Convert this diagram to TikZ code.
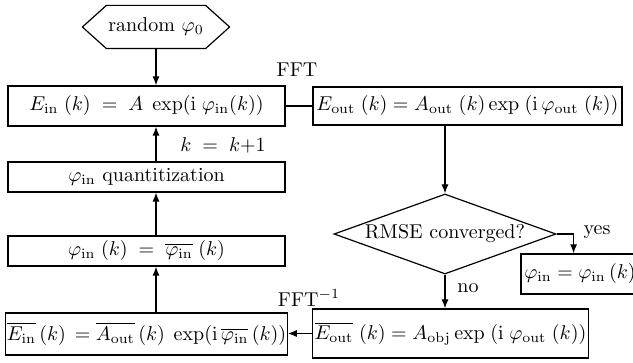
\documentclass[tikz,border=0pt]{standalone}
\usetikzlibrary{arrows.meta,shapes.geometric}
\begin{document}
\begin{tikzpicture}[x=0.5pt,y=-0.5pt,
  line width=0.6pt,
  box/.style={draw, rectangle, inner sep=1pt, anchor=center},
  arr/.style={-{Latex[length=4.5pt,width=3.5pt]}},
  lbl/.style={inner sep=0pt, anchor=center}]
\useasboundingbox (0,0) rectangle (633,363);
% start
\node[inner sep=0pt, minimum width=73pt, minimum height=21pt] (hex) at (156,27) {random $\varphi_0$};
\draw (hex.west) -- ([xshift=12pt]hex.north west) -- ([xshift=-12pt]hex.north east)
  -- (hex.east) -- ([xshift=-12pt]hex.south east) -- ([xshift=12pt]hex.south west) -- cycle;
% left column
\node[box, minimum width=138.5pt, minimum height=20pt] (ein) at (146.5,106)
  {$E_{\mathrm{in}}\;(k)\;=\;A\;\exp(\mathrm{i}\;\varphi_{\mathrm{in}}(k))$};
\node[box, minimum width=138.5pt, minimum height=15pt] (quant) at (146.5,177)
  {$\varphi_{\mathrm{in}}$ quantitization};
\node[box, minimum width=138.5pt, minimum height=15pt] (phi) at (146.5,251)
  {$\varphi_{\mathrm{in}}\;(k)\;=\;\overline{\varphi_{\mathrm{in}}}\;(k)$};
\node[box, inner sep=0.5pt, minimum width=138.5pt, minimum height=21pt] (einbar) at (146.5,334)
  {$\overline{E_{\mathrm{in}}}\,(k)\,=\overline{A_{\mathrm{out}}}\,(k)\;\exp(\mathrm{i}\,\overline{\varphi_{\mathrm{in}}}\,(k))$};
% right column
\node[box, minimum width=154.5pt, minimum height=19pt] (eout) at (467.5,106)
  {$E_{\mathrm{out}}\;(k)=A_{\mathrm{out}}\;(k)\exp\;(\mathrm{i}\,\varphi_{\mathrm{out}}\;(k))$};
\node[draw, diamond, inner sep=0pt, aspect=2.7, minimum width=111pt, minimum height=40pt] (dia) at (445,234)
  {RMSE converged?};
\node[box, minimum width=59pt, minimum height=20pt] (yes) at (580,274)
  {$\varphi_{\mathrm{in}}=\varphi_{\mathrm{in}}\,(k)$};
\node[box, minimum width=131.5pt, minimum height=24.5pt] (eoutbar) at (450.5,333.5)
  {$\overline{E_{\mathrm{out}}}\;(k)=A_{\mathrm{obj}}\exp\;(\mathrm{i}\;\varphi_{\mathrm{out}}\;(k))$};
% connectors
\draw[arr] (hex.south) -- (hex.south |- ein.north);
\draw (ein.east) -- (eout.west);
\draw[arr] (dia.north |- eout.south) -- (dia.north);
\draw[arr] (dia.east) -- ++(17,0) coordinate (yk) -- (yk |- yes.north);
\draw[arr] (dia.south) -- (dia.south |- eoutbar.north);
\draw[arr] (eoutbar.west) -- (eoutbar.west -| einbar.east);
\draw[arr] (einbar.north -| hex.south) -- (phi.south -| hex.south);
\draw[arr] (phi.north -| hex.south) -- (quant.south -| hex.south);
\draw[arr] (quant.north -| hex.south) -- (ein.south -| hex.south);
% labels
\node[lbl] (fft) at (297,70) {FFT};
\node[lbl] (ifft) at (309,298) {FFT$^{-1}$};
\node[lbl] (kinc) at (223,145) {$k\;=\;k{+}1$};
\node[lbl] (yeslbl) at (597,232) {yes};
\node[lbl] (nolbl) at (468,288) {no};
\end{tikzpicture}
\end{document}
